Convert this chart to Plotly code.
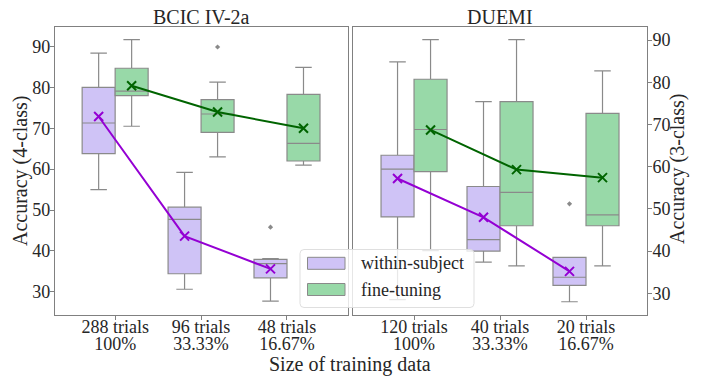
import numpy as np
import plotly.graph_objects as go

W, H = 705, 377

panel_titles = ["BCIC IV-2a", "DUEMI"]
trials_bcic = ["288 trials", "96 trials", "48 trials"]
trials_duemi = ["120 trials", "40 trials", "20 trials"]
pct_labels = ["100%", "33.33%", "16.67%"]
series_names = ["within-subject", "fine-tuning"]
y_ticks = [30, 40, 50, 60, 70, 80, 90]

# ---- BCIC IV-2a (4-class) ----
bcic_within_low = [55.0, 30.6, 27.7]
bcic_within_q1 = [63.8, 34.4, 33.4]
bcic_within_med = [71.3, 47.7, 36.9]
bcic_within_q3 = [80.0, 50.7, 37.9]
bcic_within_high = [88.4, 59.2, 38.1]
bcic_within_mean = [72.9, 43.6, 35.6]
bcic_within_out = [[], [], [45.8]]

bcic_ft_low = [70.5, 63.0, 61.0]
bcic_ft_q1 = [78.0, 69.0, 62.0]
bcic_ft_med = [79.1, 73.5, 66.3]
bcic_ft_q3 = [84.7, 77.0, 78.3]
bcic_ft_high = [91.7, 81.3, 84.9]
bcic_ft_mean = [80.4, 74.0, 70.0]
bcic_ft_out = [[], [89.9], []]

# ---- DUEMI (3-class) ----
duemi_within_low = [28.5, 37.4, 28.0]
duemi_within_q1 = [48.1, 40.0, 31.9]
duemi_within_med = [59.4, 42.7, 33.8]
duemi_within_q3 = [62.7, 55.3, 38.5]
duemi_within_high = [84.8, 75.4, 38.5]
duemi_within_mean = [57.2, 48.0, 35.2]
duemi_within_out = [[], [], [51.2]]

duemi_ft_low = [40.1, 36.5, 36.5]
duemi_ft_q1 = [58.8, 46.0, 46.0]
duemi_ft_med = [68.8, 53.9, 48.6]
duemi_ft_q3 = [80.7, 75.4, 72.6]
duemi_ft_high = [90.1, 90.1, 82.7]
duemi_ft_mean = [68.7, 59.3, 57.4]
duemi_ft_out = [[], [], []]

# ---- styles ----
FONT = "Liberation Serif, Times New Roman, serif"
TXT = "#262626"
EDGE = "#8a8a8a"
FRAME = "#808080"
FILL = ["#cfc3f6", "#98d9a8"]
MEANC = ["#9400d3", "#006400"]
OFFSET = 0.192
BW = 0.384

fig = go.Figure()


def add_panel(xa, ya, ncat, stats):
    pos = np.arange(ncat)
    for k, st in enumerate(stats):
        low, q1, med, q3, high, mean, outs = st
        sgn = -1 if k == 0 else 1
        xs = pos + sgn * OFFSET
        fig.add_trace(go.Box(
            x=list(xs), q1=q1, median=med, q3=q3, lowerfence=low, upperfence=high,
            width=BW, fillcolor=FILL[k], line=dict(color=EDGE, width=1.2),
            whiskerwidth=0.5, boxpoints=False, name=series_names[k],
            xaxis=xa, yaxis=ya, showlegend=False, hoverinfo="skip"))
        ox, oy = [], []
        for i, arr in enumerate(outs):
            for v in arr:
                ox.append(xs[i])
                oy.append(v)
        if ox:
            fig.add_trace(go.Scatter(
                x=ox, y=oy, mode="markers",
                marker=dict(symbol="diamond", size=4, color=EDGE),
                xaxis=xa, yaxis=ya, showlegend=False, hoverinfo="skip"))
    for k, st in enumerate(stats):
        sgn = -1 if k == 0 else 1
        xs = pos + sgn * OFFSET
        fig.add_trace(go.Scatter(
            x=list(xs), y=st[5], mode="lines+markers",
            line=dict(color=MEANC[k], width=2),
            marker=dict(symbol="x-thin", size=9, color=MEANC[k],
                        line=dict(color=MEANC[k], width=2)),
            xaxis=xa, yaxis=ya, showlegend=False, hoverinfo="skip"))


add_panel("x", "y", len(trials_bcic), [
    (bcic_within_low, bcic_within_q1, bcic_within_med, bcic_within_q3, bcic_within_high, bcic_within_mean, bcic_within_out),
    (bcic_ft_low, bcic_ft_q1, bcic_ft_med, bcic_ft_q3, bcic_ft_high, bcic_ft_mean, bcic_ft_out),
])
add_panel("x2", "y2", len(trials_duemi), [
    (duemi_within_low, duemi_within_q1, duemi_within_med, duemi_within_q3, duemi_within_high, duemi_within_mean, duemi_within_out),
    (duemi_ft_low, duemi_ft_q1, duemi_ft_med, duemi_ft_q3, duemi_ft_high, duemi_ft_mean, duemi_ft_out),
])

# empty traces so that the secondary (percentage) label axes exist
fig.add_trace(go.Scatter(x=[], y=[], xaxis="x3", yaxis="y", showlegend=False))
fig.add_trace(go.Scatter(x=[], y=[], xaxis="x4", yaxis="y2", showlegend=False))


def px_x(p):
    return p / W


def px_y(p):
    return 1 - p / H


ydom = [px_y(315), px_y(27)]
tfont = dict(family=FONT, size=18, color=TXT)
axis_common = dict(showgrid=False, zeroline=False, showline=True, mirror=True,
                   linecolor=FRAME, linewidth=1.3, ticks="outside", ticklen=4,
                   tickwidth=1, tickcolor=FRAME, tickfont=tfont)
pct_common = dict(showgrid=False, zeroline=False, showline=False, ticks="",
                  tickfont=tfont, ticklabelstandoff=16)
dom1 = [px_x(55), px_x(348)]
dom2 = [px_x(353), px_x(646.7)]
r1 = [-0.7, 2.71]
r2 = [-0.71, 2.706]

fig.update_layout(
    width=W, height=H, margin=dict(l=0, r=0, t=0, b=0),
    paper_bgcolor="white", plot_bgcolor="white", boxmode="overlay",
    xaxis=dict(domain=dom1, range=r1, anchor="y", ticklabelstandoff=-9,
               tickvals=list(range(len(trials_bcic))), ticktext=trials_bcic, **axis_common),
    yaxis=dict(domain=ydom, range=[24.3, 94.8], anchor="x", tickvals=y_ticks,
               ticklabelstandoff=-4, **axis_common),
    xaxis2=dict(domain=dom2, range=r2, anchor="y2", ticklabelstandoff=-9,
                tickvals=list(range(len(trials_duemi))), ticktext=trials_duemi, **axis_common),
    yaxis2=dict(domain=ydom, range=[24.86, 93.08], anchor="x2", side="right",
                tickvals=y_ticks, ticklabelstandoff=-3, **axis_common),
    xaxis3=dict(domain=dom1, range=r1, anchor="y", overlaying="x",
                tickvals=list(range(len(pct_labels))), ticktext=pct_labels, **pct_common),
    xaxis4=dict(domain=dom2, range=r2, anchor="y2", overlaying="x2",
                tickvals=list(range(len(pct_labels))), ticktext=pct_labels, **pct_common),
    showlegend=False,
)

ann = []
ann.append(dict(text=panel_titles[0], x=px_x(201.5), y=px_y(17)))
ann.append(dict(text=panel_titles[1], x=px_x(500), y=px_y(17)))
ann.append(dict(text="Size of training data", x=px_x(350), y=px_y(364)))
ann.append(dict(text="Accuracy (4-class)", x=px_x(20), y=px_y(171), textangle=-90))
ann.append(dict(text="Accuracy (3-class)", x=px_x(677), y=px_y(169), textangle=-90))
for a in ann:
    a.update(xref="paper", yref="paper", showarrow=False, xanchor="center", yanchor="middle",
             font=dict(family=FONT, size=20, color=TXT))
    fig.add_annotation(**a)

# ---- legend (matplotlib style) ----
lx0, lx1, ly0, ly1, r = 300, 474, 249.5, 307.5, 4
path = (f"M {px_x(lx0 + r)} {px_y(ly0)} L {px_x(lx1 - r)} {px_y(ly0)} "
        f"Q {px_x(lx1)} {px_y(ly0)} {px_x(lx1)} {px_y(ly0 + r)} "
        f"L {px_x(lx1)} {px_y(ly1 - r)} Q {px_x(lx1)} {px_y(ly1)} {px_x(lx1 - r)} {px_y(ly1)} "
        f"L {px_x(lx0 + r)} {px_y(ly1)} Q {px_x(lx0)} {px_y(ly1)} {px_x(lx0)} {px_y(ly1 - r)} "
        f"L {px_x(lx0)} {px_y(ly0 + r)} Q {px_x(lx0)} {px_y(ly0)} {px_x(lx0 + r)} {px_y(ly0)} Z")
fig.add_shape(type="path", path=path, xref="paper", yref="paper", layer="above",
              fillcolor="rgba(255,255,255,0.8)", line=dict(color="rgba(220,220,220,0.9)", width=1))
for k, yc in enumerate([263.3, 289.5]):
    fig.add_shape(type="rect", xref="paper", yref="paper", layer="above",
                  x0=px_x(307.5), x1=px_x(345), y0=px_y(yc - 6), y1=px_y(yc + 6),
                  fillcolor=FILL[k], line=dict(color=EDGE, width=1))
    fig.add_annotation(text=series_names[k], xref="paper", yref="paper",
                       x=px_x(359), y=px_y(yc), xanchor="left", yanchor="middle",
                       showarrow=False, font=dict(family=FONT, size=18, color=TXT))

fig.write_html("out.html")
